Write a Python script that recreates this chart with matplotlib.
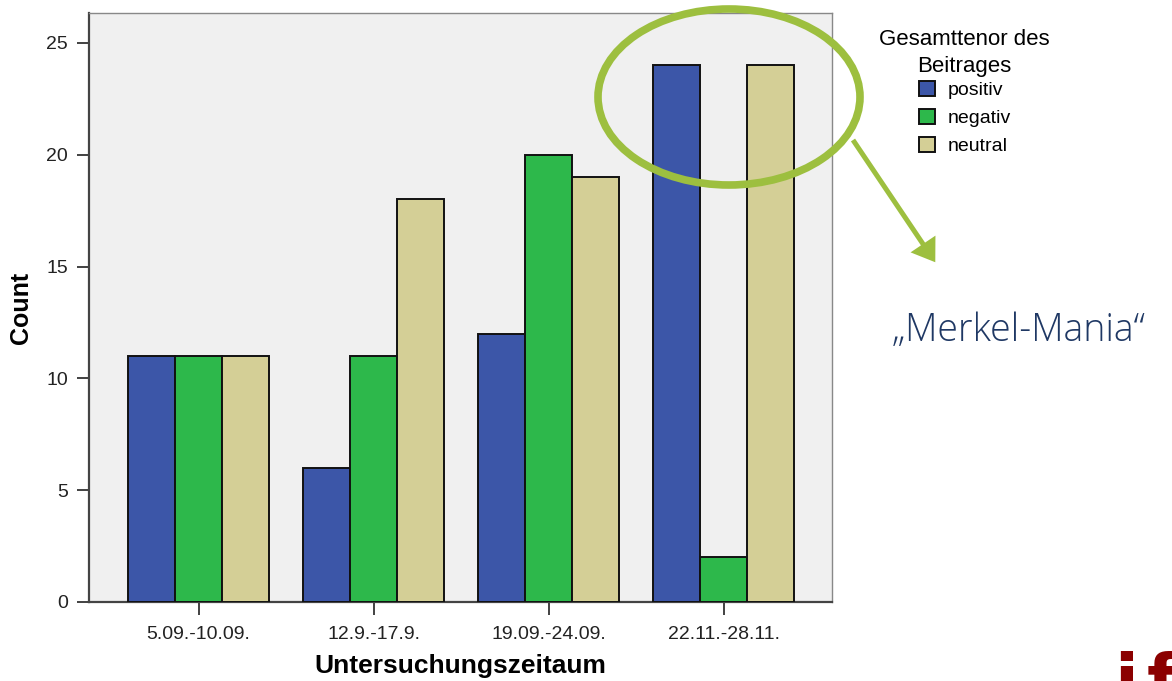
import numpy as np
import matplotlib
matplotlib.use("Agg")
import matplotlib.pyplot as plt
from matplotlib.patches import Ellipse, FancyArrow

plt.rcParams['font.family'] = ['Liberation Sans', 'DejaVu Sans']

periods = ['5.09.-10.09.', '12.9.-17.9.', '19.09.-24.09.', '22.11.-28.11.']
tenor_labels = ['positiv', 'negativ', 'neutral']
positiv = [11, 6, 12, 24]
negativ = [11, 11, 20, 2]
neutral = [11, 18, 19, 24]

colors = ['#3c56a8', '#2db84b', '#d4cf96']

fig = plt.figure(figsize=(11.72, 6.81), dpi=100)
fig.patch.set_facecolor('white')
ax = fig.add_axes([89/1172, 1 - 602/681, (832-89)/1172, (602-13)/681])
ax.set_facecolor('#f0f0f0')

x = np.arange(len(periods))
w = 0.27
bars = []
for i, (vals, c, lab) in enumerate(zip([positiv, negativ, neutral], colors, tenor_labels)):
    b = ax.bar(x + (i - 1) * w, vals, width=w, color=c, edgecolor='#111111',
               linewidth=1.4, label=lab, zorder=3)
    bars.append(b)

ax.set_xlim(-0.626, 3.62)
ax.set_ylim(0, 26.34)
ax.set_yticks([0, 5, 10, 15, 20, 25])
ax.set_xticks(x)
ax.set_xticklabels(periods)
ax.tick_params(axis='both', direction='out', length=9, width=1.3,
               color='#333333', labelsize=14, labelcolor='#222222')
ax.tick_params(axis='y', pad=6)
ax.tick_params(axis='x', pad=8)

for side in ['left', 'bottom']:
    ax.spines[side].set_color('#444444')
    ax.spines[side].set_linewidth(1.6)
for side in ['top', 'right']:
    ax.spines[side].set_color('#888888')
    ax.spines[side].set_linewidth(1.0)

ax.set_ylabel('Count', fontsize=18, fontweight='bold', labelpad=10)
ax.set_xlabel('Untersuchungszeitaum', fontsize=19, fontweight='bold', labelpad=8)

# legend: title as separate text so its spacing can be set freely
fig.text(964/1172, 1 - 53/681, 'Gesamttenor des\nBeitrages', fontsize=16,
         ha='center', va='center', multialignment='center', linespacing=1.35)
leg = fig.legend(handles=bars, labels=tenor_labels,
                 loc='upper left', bbox_to_anchor=(919/1172, 1 - 81/681),
                 frameon=False, fontsize=14, borderpad=0, borderaxespad=0,
                 handlelength=0.8, handleheight=0.8, handletextpad=0.7,
                 labelspacing=0.5)
for h in leg.legend_handles:
    h.set_linewidth(1.4)

# annotation layer in pixel coordinates
ov = fig.add_axes([0, 0, 1, 1], zorder=5)
ov.set_xlim(0, 1172)
ov.set_ylim(681, 0)
ov.axis('off')
ov.patch.set_alpha(0)

green = '#9dbf3f'
ov.add_patch(Ellipse((729, 97), 262, 176, fill=False, edgecolor=green, linewidth=5.5))
ov.add_patch(FancyArrow(853, 140, 70, 104, width=5, head_width=30, head_length=22,
                        length_includes_head=False, color=green, linewidth=0))

ov.text(1019, 331, '\u201eMerkel-Mania\u201c', fontsize=27, color='#1f3864',
        family=['Open Sans', 'DejaVu Sans'], fontweight='light',
        ha='center', va='center')

# logo fragment in the corner
ov.text(1114, 704, 'i', fontsize=50, color='#8b0000', fontweight='bold',
        family='DejaVu Sans', ha='left', va='baseline')
ov.text(1147, 704, 'f', fontsize=50, color='#8b0000', fontweight='bold',
        family='DejaVu Sans', ha='left', va='baseline')

fig.savefig('out.png', dpi=100)
